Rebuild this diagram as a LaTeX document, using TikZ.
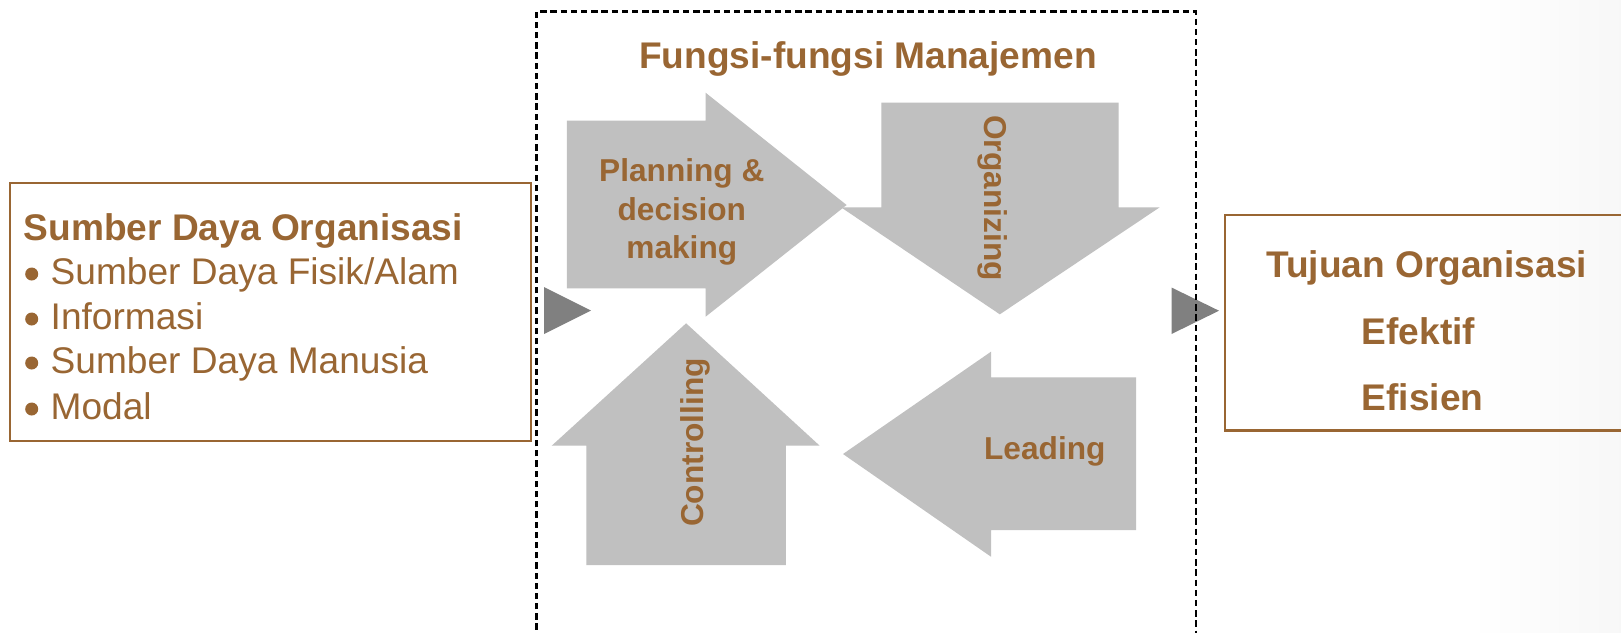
\documentclass[tikz,border=0pt]{standalone}
\usepackage{fontspec}
\setmainfont{Liberation Sans}
\definecolor{brn}{RGB}{153,102,51}
\definecolor{arrowgray}{RGB}{192,192,192}
\definecolor{trigray}{RGB}{128,128,128}
\tikzset{
  lbl/.style={text=brn, font=\fontsize{10.55}{12}\selectfont, inner sep=0pt},
  blbl/.style={text=brn, font=\fontsize{10.55}{12}\selectfont\bfseries, inner sep=0pt},
  albl/.style={text=brn, font=\fontsize{9}{10}\selectfont\bfseries, inner sep=0pt},
  bulletdot/.style={circle, fill=brn, draw=none, inner sep=0pt, minimum size=0.13cm},
  bigarrow/.style={fill=arrowgray, draw=none},
  tri/.style={fill=trigray, draw=none},
  frame/.style={draw=brn, line width=0.8pt},
  dashframe/.style={draw=black, line width=0.65pt, dash pattern=on 1.8pt off 1.1pt},
}
\begin{document}
\begin{tikzpicture}[x=0.01cm,y=-0.01cm]
\clip (0,0) rectangle (1621,632);
\fill[white] (0,0) rectangle (1621,632);
\shade[left color=white, right color=black!3] (1470,0) rectangle (1621,632);

% left box
\draw[frame] (10,183) rectangle (531,441);
\node[blbl, anchor=base west] (srctitle) at (23,240) {Sumber Daya Organisasi};
\foreach \yy/\txt/\nm in {284/Sumber Daya Fisik\slash Alam/a, 329/Informasi/b, 373/Sumber Daya Manusia/c, 419/Modal/d}{
  \node[bulletdot] (bul\nm) at (31.7,\yy-10) {};
  \node[lbl, anchor=base west] (src\nm) at (50,\yy) {\txt};
}

% gray triangles
\fill[tri] (544,287) -- (544,334) -- (591,310.5) -- cycle;
\fill[tri] (1171.5,287.5) -- (1171.5,334) -- (1219,310.7) -- cycle;

% dashed frame
\draw[dashframe] (536.5,640) -- (536.5,11.5) -- (1196,11.5) -- (1196,640);
\node[blbl, anchor=base] (fungsi) at (868,68) {Fungsi-fungsi Manajemen};

% planning arrow
\fill[bigarrow] (566.9,120.7) -- (705.6,120.7) -- (705.6,92.7) -- (846.6,205) -- (705.6,316.7) -- (705.6,288.3) -- (566.9,288.3) -- cycle;
\node[albl, anchor=base] (plan1) at (681.8,181.7) {Planning \&};
\node[albl, anchor=base] (plan2) at (681.8,220.5) {decision};
\node[albl, anchor=base] (plan3) at (681.8,258) {making};

% organizing arrow
\fill[bigarrow] (881.3,102.7) -- (1118.5,102.7) -- (1118.5,207.3) -- (1159.7,207.3) -- (999.8,314.3) -- (841,207.3) -- (881.3,207.3) -- cycle;
\node[albl, rotate=-90] (org) at (993,198) {Organizing};

% controlling arrow
\fill[bigarrow] (686.1,323.3) -- (819.7,445.7) -- (785.9,445.7) -- (785.9,565) -- (586.4,565) -- (586.4,445.7) -- (551.7,445.7) -- cycle;
\node[albl, rotate=90] (ctrl) at (695,442.5) {Controlling};

% leading arrow
\fill[bigarrow] (843,454) -- (991,351.7) -- (991,377.3) -- (1136,377.3) -- (1136,530) -- (991,530) -- (991,556.7) -- cycle;
\node[albl, anchor=base] (lead) at (1044.8,459.3) {Leading};

% right box
\draw[frame] (1225,215) rectangle (1640,430.7);
\node[blbl, anchor=base] (tujuan) at (1426.7,277.3) {Tujuan Organisasi};
\node[blbl, anchor=base west] (efektif) at (1361,344) {Efektif};
\node[blbl, anchor=base west] (efisien) at (1361,410.7) {Efisien};
\end{tikzpicture}
\end{document}
